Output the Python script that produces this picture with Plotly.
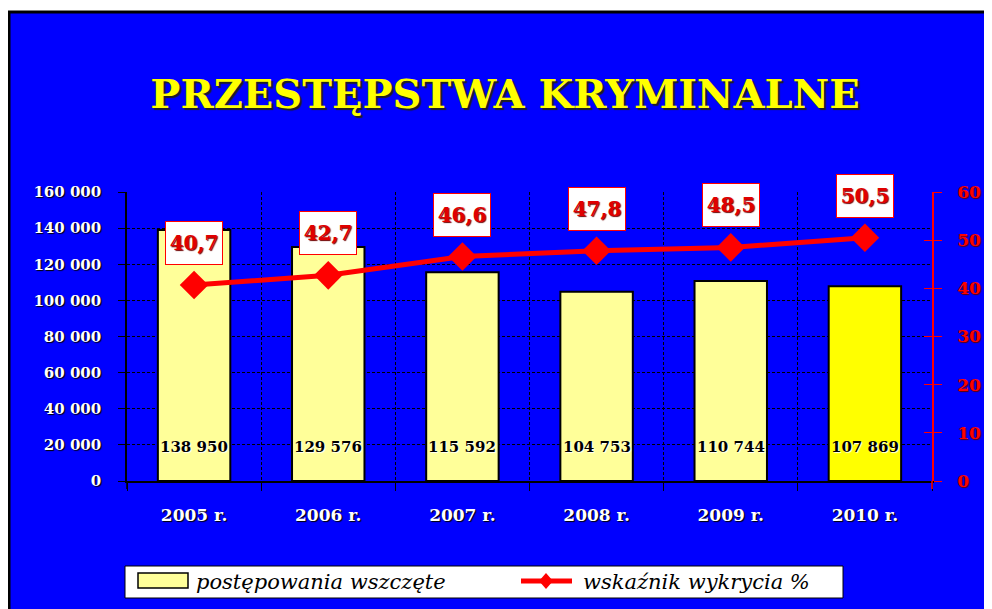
import plotly.graph_objects as go

years = ["2005 r.", "2006 r.", "2007 r.", "2008 r.", "2009 r.", "2010 r."]
cases = [138950, 129576, 115592, 104753, 110744, 107869]
detect = [40.7, 42.7, 46.6, 47.8, 48.5, 50.5]
detect_labels = ["40,7", "42,7", "46,6", "47,8", "48,5", "50,5"]
case_labels = ["138 950", "129 576", "115 592", "104 753", "110 744", "107 869"]
bar_colors = ["#FFFF99", "#FFFF99", "#FFFF99", "#FFFF99", "#FFFF99", "#FFFF00"]
title_text = "PRZESTĘPSTWA KRYMINALNE"
legend_names = ["postępowania wszczęte", "wskaźnik wykrycia %"]

OFF = 8  # default page body margin
PW, PH = 992, 609  # page size
W, H = PW - OFF, PH - OFF  # figure size
# plot area in page pixels
PL, PR, PT, PB = 127, 932, 192, 481
L, R, T, B = PL - OFF, PR - OFF, PT - OFF, PB - OFF
BLUE = "#0000FF"
SERIF = "DejaVu Serif"


def X(px):  # page px -> paper
    return (px - PL) / (PR - PL)


def Y(py):
    return (PB - py) / (PB - PT)


fig = go.Figure()
fig.add_trace(go.Bar(
    x=years, y=cases, name=legend_names[0],
    marker=dict(color=bar_colors, line=dict(color="black", width=2)),
    showlegend=False, yaxis="y",
))
fig.add_trace(go.Scatter(
    x=years, y=detect, name=legend_names[1], yaxis="y2",
    mode="lines+markers",
    line=dict(color="#FF0000", width=5),
    marker=dict(symbol="diamond", size=22, color="#FF0000"),
    showlegend=False,
))
# dummy trace to show yaxis3 ticks (inner half of crossing ticks)
fig.add_trace(go.Scatter(x=[years[0]], y=[None], yaxis="y3", showlegend=False,
                         hoverinfo="skip", mode="markers"))

annotations = []
for yr, lab in zip(years, case_labels):
    annotations.append(dict(
        x=yr, y=20000, xref="x", yref="y", text=lab, showarrow=False,
        yanchor="middle", yshift=-2,
        font=dict(family=SERIF, size=15, color="black", weight="bold",
                  shadow="1px 1px 1px #ffffff"),
    ))
for yr, v, lab in zip(years, detect, detect_labels):
    annotations.append(dict(
        x=yr, y=v, xref="x", yref="y2", text=lab, showarrow=False,
        yanchor="middle", yshift=42,
        bgcolor="white", bordercolor="#FF0000", borderwidth=1, borderpad=3,
        width=50, height=36,
        font=dict(family=SERIF, size=20, color="#E00000", weight="bold",
                  shadow="1px 1px 1px #700000"),
    ))
# legend texts
annotations.append(dict(
    x=X(194), y=Y(582), xref="paper", yref="paper", text=legend_names[0],
    showarrow=False, xanchor="left", yanchor="middle",
    font=dict(family=SERIF, size=21, color="black", style="italic"),
))
annotations.append(dict(
    x=X(581), y=Y(582), xref="paper", yref="paper", text=legend_names[1],
    showarrow=False, xanchor="left", yanchor="middle",
    font=dict(family=SERIF, size=21, color="black", style="italic"),
))

shapes = [
    # white page strip on top and black border
    dict(type="rect", xref="paper", yref="paper", x0=X(0), x1=X(PW + 5), y0=Y(0), y1=Y(11),
         fillcolor="white", line=dict(width=0), layer="above"),
    dict(type="line", xref="paper", yref="paper", x0=X(7), x1=X(PW + 5), y0=Y(12), y1=Y(12),
         line=dict(color="black", width=3), layer="above"),
    dict(type="line", xref="paper", yref="paper", x0=X(9), x1=X(9), y0=Y(11), y1=Y(PH + 5),
         line=dict(color="black", width=3), layer="above"),
    # axis line extensions below zero
    dict(type="line", xref="paper", yref="paper", x0=X(PR), x1=X(PR), y0=Y(PB), y1=Y(489),
         line=dict(color="#FF0000", width=1.5), layer="above"),
    dict(type="line", xref="paper", yref="paper", x0=X(PL), x1=X(PL), y0=Y(PB), y1=Y(489),
         line=dict(color="black", width=1.5), layer="above"),
    # legend box
    dict(type="rect", xref="paper", yref="paper", x0=X(125), x1=X(843), y0=Y(566), y1=Y(598),
         fillcolor="white", line=dict(color="black", width=1), layer="above"),
    dict(type="rect", xref="paper", yref="paper", x0=X(138), x1=X(188), y0=Y(573), y1=Y(588),
         fillcolor="#FFFF99", line=dict(color="black", width=1.5), layer="above"),
    dict(type="line", xref="paper", yref="paper", x0=X(521), x1=X(572), y0=Y(581), y1=Y(581),
         line=dict(color="#FF0000", width=5), layer="above"),
]
# legend diamond
cx, cy = 546, 581
pts = [(cx, cy - 8), (cx + 7, cy), (cx, cy + 8), (cx - 7, cy)]
path = "M " + " L ".join(f"{X(a)},{Y(b)}" for a, b in pts) + " Z"
shapes.append(dict(type="path", xref="paper", yref="paper", path=path,
                   fillcolor="#FF0000", line=dict(color="#FF0000", width=0), layer="above"))

fig.update_layout(
    width=W, height=H,
    margin=dict(l=L, r=W - R, t=T, b=H - B, pad=0, autoexpand=False),
    paper_bgcolor=BLUE, plot_bgcolor=BLUE,
    separators=", ",
    bargap=0.46,
    showlegend=False,
    title=dict(
        text=title_text, x=(505 - OFF) / W, xanchor="center",
        y=1 - (94 - OFF) / H, yanchor="middle",
        xref="container", yref="container",
        font=dict(family=SERIF, size=40, color="#FFFF00", weight="bold",
                  shadow="2px 2px 1px #202020"),
    ),
    xaxis=dict(
        type="category", tickson="boundaries", ticks="outside", ticklen=8,
        tickcolor="black", tickwidth=1,
        showline=True, linecolor="black", linewidth=1.5,
        showgrid=True, gridcolor="black", gridwidth=1, griddash="3px,2px",
        ticklabelstandoff=18,
        tickfont=dict(family=SERIF, size=17, color="white", weight="bold",
                      shadow="1px 1px 1px #000000"),
    ),
    yaxis=dict(
        range=[0, 160000], dtick=20000, tickformat=",d",
        ticks="outside", ticklen=7, tickcolor="black",
        showline=True, linecolor="black", linewidth=1.5,
        showgrid=True, gridcolor="black", gridwidth=1, griddash="3px,2px",
        zeroline=False, ticklabelstandoff=14,
        tickfont=dict(family=SERIF, size=15, color="white", weight="bold",
                      shadow="1px 1px 1px #000000"),
    ),
    yaxis2=dict(
        range=[0, 60], dtick=10, overlaying="y", side="right", anchor="x",
        ticks="outside", ticklen=8, tickcolor="#FF0000", tickwidth=1,
        showline=True, linecolor="#FF0000", linewidth=1.5,
        showgrid=False, zeroline=False, ticklabelstandoff=12,
        tickfont=dict(family=SERIF, size=17, color="#FF0000", weight="bold",
                      shadow="1px 1px 1px #600000"),
    ),
    yaxis3=dict(
        range=[0, 60], dtick=10, overlaying="y", side="right", anchor="x",
        ticks="inside", ticklen=8, tickcolor="#FF0000", tickwidth=1,
        showline=False, showgrid=False, zeroline=False, showticklabels=False,
    ),
    annotations=annotations,
    shapes=shapes,
)

fig.write_html("out.html")
